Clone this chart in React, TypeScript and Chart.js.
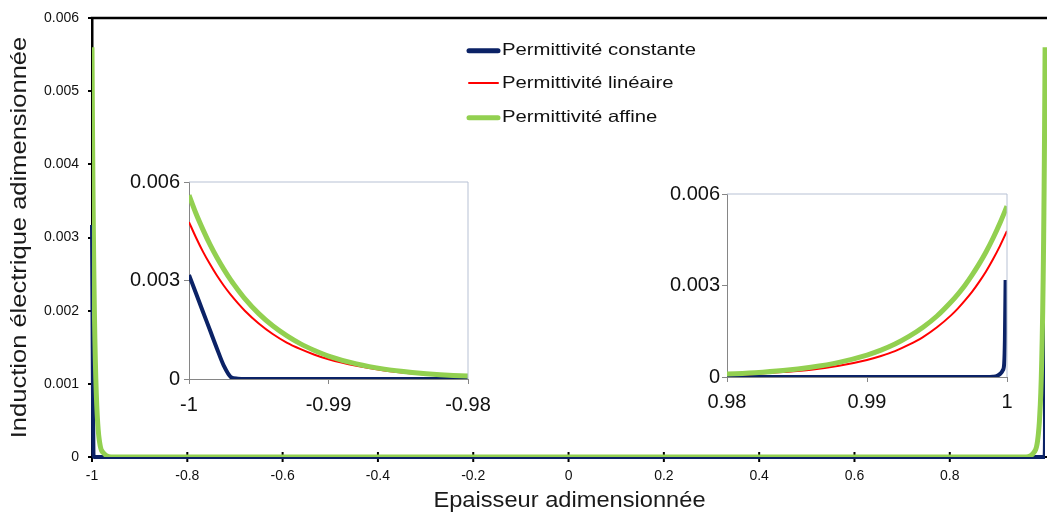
import React, { useEffect, useRef } from 'react';
import { Chart, registerables } from 'chart.js';

Chart.register(...registerables);

const FONT = '"Liberation Sans", Arial, sans-serif';

// ---- series ----
const seriesLabels = ['Permittivité constante', 'Permittivité linéaire', 'Permittivité affine'];
const seriesColors = ['#0b2266', '#ff0000', '#92d050'];
const seriesWidths = [4, 2, 5];

// distances from the wall (x = -1 on the left, x = 1 on the right)
const wallOffsets = [0, 0.0005, 0.001, 0.0015, 0.002, 0.0025, 0.003, 0.0035, 0.004, 0.005, 0.006, 0.007, 0.008, 0.009, 0.01, 0.012, 0.014, 0.016, 0.018, 0.02, 0.025, 0.03, 0.04];

// Permittivité linéaire
const linLeft = [0.00478, 0.00431, 0.00388, 0.0035, 0.00315, 0.00284, 0.00256, 0.00231, 0.00208, 0.00169, 0.00137, 0.00111, 0.00091, 0.00074, 0.0006, 0.0004, 0.00026, 0.00017, 0.00011, 0.00008, 0.00004, 0.00002, 0];
const linRight = [0.00479, 0.0043, 0.00386, 0.00346, 0.00311, 0.00279, 0.00251, 0.00225, 0.00202, 0.00163, 0.00131, 0.00106, 0.00085, 0.00069, 0.00056, 0.00037, 0.00024, 0.00016, 0.0001, 0.00007, 0.00003, 0.00001, 0];

// Permittivité affine
const affLeft = [0.0056, 0.00504, 0.00455, 0.0041, 0.0037, 0.00334, 0.00301, 0.00272, 0.00245, 0.00199, 0.00162, 0.00132, 0.00107, 0.00087, 0.0007, 0.00046, 0.0003, 0.0002, 0.00013, 0.00009, 0.00005, 0.00002, 0];
const affRight = [0.0056, 0.00505, 0.00455, 0.0041, 0.0037, 0.00334, 0.00301, 0.00272, 0.00246, 0.002, 0.00163, 0.00133, 0.00108, 0.00088, 0.00072, 0.00048, 0.00032, 0.00021, 0.00014, 0.0001, 0.00005, 0.00002, 0];

// Permittivité constante
const constLeftOffsets = [0, 0.0005, 0.001, 0.0015, 0.002, 0.0025, 0.003, 0.0035, 0.004, 0.04];
const constLeft = [0.00317, 0.00261, 0.00205, 0.00149, 0.00093, 0.0004, 0.00006, 0.00001, 0, 0];
const constRightOffsets = [0.0001, 0.00015, 0.0002, 0.0003, 0.0005, 0.0007, 0.001, 0.0015, 0.04];
const constRight = [0.00318, 0.0012, 0.00045, 0.00022, 0.0001, 0.00004, 0.00001, 0, 0];

// ---- ticks ----
const mainXTicks = [-1, -0.8, -0.6, -0.4, -0.2, 0, 0.2, 0.4, 0.6, 0.8];
const mainXTickLabels = ['-1', '-0.8', '-0.6', '-0.4', '-0.2', '0', '0.2', '0.4', '0.6', '0.8'];
const mainYTicks = [0, 0.001, 0.002, 0.003, 0.004, 0.005, 0.006];
const mainYTickLabels = ['0', '0.001', '0.002', '0.003', '0.004', '0.005', '0.006'];
const insetYTicks = [0, 0.003, 0.006];
const insetYTickLabels = ['0', '0.003', '0.006'];
const leftInsetXTicks = [-1, -0.99, -0.98];
const leftInsetXTickLabels = ['-1', '-0.99', '-0.98'];
const rightInsetXTicks = [0.98, 0.99, 1];
const rightInsetXTickLabels = ['0.98', '0.99', '1'];

const xTitle = 'Epaisseur adimensionnée';
const yTitle = 'Induction électrique adimensionnée';

function buildSeries(leftOffsets: number[], leftVals: number[], rightOffsets: number[], rightVals: number[]) {
  const left = leftOffsets.map((o, i) => ({ x: -1 + o, y: leftVals[i] }));
  const right = rightOffsets.map((o, i) => ({ x: 1 - o, y: rightVals[i] })).reverse();
  return [...left, ...right];
}

const seriesData = [
  buildSeries(constLeftOffsets, constLeft, constRightOffsets, constRight),
  buildSeries(wallOffsets, linLeft, wallOffsets, linRight),
  buildSeries(wallOffsets, affLeft, wallOffsets, affRight),
];

function makeDatasets(isMain: boolean) {
  return seriesLabels.map((label, i) => {
    const ds: any = {
      label,
      data: seriesData[i],
      borderColor: seriesColors[i],
      backgroundColor: seriesColors[i],
      borderWidth: seriesWidths[i],
      pointRadius: 0,
      cubicInterpolationMode: 'monotone',
      fill: false,
      order: 2 - i,
    };
    if (isMain && i === 0) ds.clip = { left: 2, top: 2, right: -2, bottom: 2 };
    return ds;
  });
}

function drawText(ctx: CanvasRenderingContext2D, text: string, x: number, y: number, size: number, sx: number, color: string, align: CanvasTextAlign, rot = 0) {
  ctx.save();
  ctx.translate(x, y);
  if (rot) ctx.rotate(rot);
  ctx.scale(sx, 1);
  ctx.font = `${size}px ${FONT}`;
  ctx.fillStyle = color;
  ctx.textAlign = align;
  ctx.textBaseline = 'middle';
  ctx.fillText(text, 0, 0);
  ctx.restore();
}

const legendRows = [50.7, 83, 117.7];

const mainPlugin = {
  id: 'mainDecor',
  beforeDatasetsDraw(chart: any) {
    const { ctx, chartArea: a, scales } = chart;
    ctx.save();
    ctx.strokeStyle = '#000';
    ctx.lineWidth = 2.5;
    ctx.beginPath();
    ctx.moveTo(a.left - 1.25, a.top);
    ctx.lineTo(a.right, a.top);
    ctx.stroke();
    ctx.lineWidth = 2;
    for (const v of mainXTicks) {
      const px = scales.x.getPixelForValue(v);
      ctx.beginPath();
      ctx.moveTo(px, a.bottom - 5);
      ctx.lineTo(px, a.bottom + 5);
      ctx.stroke();
    }
    ctx.restore();
  },
  afterDraw(chart: any) {
    const { ctx, chartArea: a } = chart;
    chart.data.datasets.forEach((ds: any, i: number) => {
      const y = legendRows[i];
      ctx.save();
      ctx.strokeStyle = ds.borderColor;
      ctx.lineWidth = i === 1 ? 2 : 5;
      ctx.lineCap = 'round';
      ctx.beginPath();
      ctx.moveTo(469, y);
      ctx.lineTo(498, y);
      ctx.stroke();
      ctx.restore();
      drawText(ctx, ds.label, 502, y, 16.5, 1.23, '#111', 'left');
    });
    drawText(ctx, xTitle, (a.left + a.right) / 2, 501, 21.5, 1.1, '#1a1a1a', 'center');
    drawText(ctx, yTitle, 20, (a.top + a.bottom) / 2, 22, 1.16, '#1a1a1a', 'center', -Math.PI / 2);
  },
};

function makeMain(canvas: HTMLCanvasElement) {
  return new Chart(canvas, {
    type: 'line',
    data: { datasets: makeDatasets(true) },
    options: {
      animation: false,
      responsive: false,
      devicePixelRatio: 1,
      layout: { padding: { top: 18, left: 0, right: 0, bottom: 0 } },
      plugins: { legend: { display: false }, tooltip: { enabled: false } },
      scales: {
        x: {
          type: 'linear',
          min: -1,
          max: 1.004,
          afterBuildTicks: (s: any) => { s.ticks = mainXTicks.map((v) => ({ value: v })); },
          afterFit: (s: any) => { s.height = 58; },
          ticks: {
            autoSkip: false,
            maxRotation: 0,
            padding: 11,
            color: '#111',
            font: { family: FONT, size: 14 },
            callback: (_v: any, i: number) => mainXTickLabels[i],
          },
          grid: { drawOnChartArea: false, drawTicks: false },
          border: { display: true, color: '#000', width: 2 },
        },
        y: {
          type: 'linear',
          min: 0,
          max: 0.006,
          afterBuildTicks: (s: any) => { s.ticks = mainYTicks.map((v) => ({ value: v })); },
          afterFit: (s: any) => { s.width = 92; },
          ticks: {
            autoSkip: false,
            padding: 9,
            color: '#111',
            font: { family: FONT, size: 14 },
            callback: (_v: any, i: number) => mainYTickLabels[i],
          },
          grid: { drawOnChartArea: false, drawTicks: true, tickLength: 4, color: '#000', lineWidth: 2 },
          border: { display: true, color: '#000', width: 2.5 },
        },
      },
    } as any,
    plugins: [mainPlugin],
  });
}

const insetPlugin = {
  id: 'insetFrame',
  afterDatasetsDraw(chart: any) {
    // the y axis (z: 1) is drawn after this hook: its labels are spaced wider
    (chart.ctx as any).letterSpacing = '2px';
  },
  afterDraw(chart: any) {
    const { ctx, chartArea: a } = chart;
    (ctx as any).letterSpacing = '0px';
    ctx.save();
    ctx.strokeStyle = '#b7c1d4';
    ctx.lineWidth = 1;
    ctx.beginPath();
    ctx.moveTo(a.left, a.top);
    ctx.lineTo(a.right, a.top);
    ctx.lineTo(a.right, a.bottom);
    ctx.stroke();
    ctx.restore();
  },
};

function makeInset(canvas: HTMLCanvasElement, cfg: { min: number; max: number; ticks: number[]; labels: string[]; yWidth: number; xHeight: number; top: number; right: number; yPad: number; xPad: number }) {
  return new Chart(canvas, {
    type: 'line',
    data: { datasets: makeDatasets(false) },
    options: {
      animation: false,
      responsive: false,
      devicePixelRatio: 1,
      layout: { padding: { top: cfg.top, left: 0, right: cfg.right, bottom: 0 } },
      plugins: { legend: { display: false }, tooltip: { enabled: false } },
      scales: {
        x: {
          type: 'linear',
          min: cfg.min,
          max: cfg.max,
          afterBuildTicks: (s: any) => { s.ticks = cfg.ticks.map((v) => ({ value: v })); },
          afterFit: (s: any) => { s.height = cfg.xHeight; },
          ticks: {
            autoSkip: false,
            maxRotation: 0,
            padding: cfg.xPad,
            color: '#111',
            font: { family: FONT, size: 20 },
            callback: (_v: any, i: number) => cfg.labels[i],
          },
          grid: { drawOnChartArea: false, drawTicks: true, tickLength: 5, color: '#868686', lineWidth: 1 },
          border: { display: true, color: '#868686', width: 1 },
        },
        y: {
          type: 'linear',
          z: 1,
          min: 0,
          max: 0.006,
          afterBuildTicks: (s: any) => { s.ticks = insetYTicks.map((v) => ({ value: v })); },
          afterFit: (s: any) => { s.width = cfg.yWidth; },
          ticks: {
            autoSkip: false,
            padding: cfg.yPad,
            color: '#111',
            font: { family: FONT, size: 20 },
            callback: (_v: any, i: number) => insetYTickLabels[i],
          },
          grid: { drawOnChartArea: false, drawTicks: true, tickLength: 5, color: '#868686', lineWidth: 1 },
          border: { display: true, color: '#868686', width: 1 },
        },
      },
    } as any,
    plugins: [insetPlugin],
  });
}

export default function App() {
  const mainRef = useRef<HTMLCanvasElement>(null);
  const leftRef = useRef<HTMLCanvasElement>(null);
  const rightRef = useRef<HTMLCanvasElement>(null);

  useEffect(() => {
    const charts = [
      makeMain(mainRef.current!),
      makeInset(leftRef.current!, { min: -1, max: -0.98, ticks: leftInsetXTicks, labels: leftInsetXTickLabels, yWidth: 89, xHeight: 41, top: 17, right: 32, yPad: 4, xPad: 9 }),
      makeInset(rightRef.current!, { min: 0.98, max: 1, ticks: rightInsetXTicks, labels: rightInsetXTickLabels, yWidth: 87, xHeight: 48, top: 24, right: 40, yPad: 2, xPad: 8 }),
    ];
    return () => charts.forEach((c) => c.destroy());
  }, []);

  return (
    <div style={{ position: 'fixed', left: 0, top: 0, width: 1047, height: 515, background: '#fff', overflow: 'hidden' }}>
      <canvas ref={mainRef} width={1047} height={515} style={{ position: 'absolute', left: 0, top: 0 }} />
      <canvas ref={leftRef} width={400} height={255} style={{ position: 'absolute', left: 100, top: 165 }} />
      <canvas ref={rightRef} width={407} height={255} style={{ position: 'absolute', left: 640, top: 170 }} />
    </div>
  );
}
